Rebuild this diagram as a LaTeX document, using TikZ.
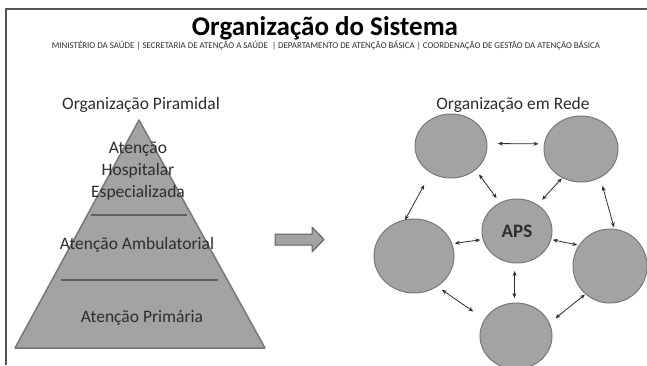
\documentclass[tikz,border=0pt]{standalone}
\usepackage{fontspec}
\setmainfont{Carlito}
\usetikzlibrary{positioning,arrows.meta,shapes.geometric}

\definecolor{shade}{RGB}{163,163,163}
\definecolor{rim}{RGB}{120,120,120}
\definecolor{ink}{RGB}{45,45,45}

\begin{document}
\begin{tikzpicture}
   [x=1pt,y=-1pt,
	rede/.style={ellipse,draw=rim,fill=shade,line width=1pt,inner sep=0pt,outer sep=0pt},
	link/.style={{Stealth[length=5pt,width=4pt]}-{Stealth[length=5pt,width=4pt]},line width=0.8pt,ink},
	rotulo/.style={font=\fontsize{17.5}{21}\selectfont,text=ink,inner sep=0pt}]

\useasboundingbox (0,0) rectangle (647,365);
\draw [line width=1.5pt,rim!70!black] (6,365) -- (6,9) -- (647,9);

\node (titulo) at (325,28) {\fontsize{27}{31}\selectfont\bfseries Organização do Sistema};
\node (sub) at (326,46) {\fontsize{8.9}{10}\selectfont\color{ink}MINISTÉRIO DA SAÚDE | SECRETARIA DE ATENÇÃO A SAÚDE \ | DEPARTAMENTO DE ATENÇÃO BÁSICA | COORDENAÇÃO DE GESTÃO DA ATENÇÃO BÁSICA};

% piramide
\node [rotulo] (pir) at (141,105) {Organização Piramidal};
\draw [fill=shade,draw=rim,line width=1.5pt,line join=round] (139,120) -- (265,348) -- (15,348) -- cycle;
\draw [line width=2pt,rim!80!black] (91,215) -- (187,215);
\draw [line width=2pt,rim!80!black] (61,280) -- (218,280);
\node [rotulo,align=center] (hosp) at (138,171) {Atenção\\[1pt]Hospitalar\\[1pt]Especializada};
\node [rotulo] (amb) at (137,245) {Atenção Ambulatorial};
\node [rotulo] (prim) at (142,318) {Atenção Primária};

% seta
\draw [fill=shade,draw=rim!80!black,line width=1pt,line join=round] (275,234) -- (312,234) -- (312,227) -- (324,239.5)
		-- (312,252) -- (312,245) -- (275,245) -- cycle;

% rede
\node [rotulo] (rede) at (513,105) {Organização em Rede};
\node [rede,minimum width=72pt,minimum height=64pt] (tl) at (451,146) {};
\node [rede,minimum width=74pt,minimum height=66pt] (tr) at (581,149) {};
\node [rede,minimum width=70pt,minimum height=64pt,font=\fontsize{19}{22}\selectfont\bfseries,text=ink] (aps) at (517,231) {APS};
\node [rede,minimum width=80pt,minimum height=74pt] (l) at (414,256) {};
\node [rede,minimum width=74pt,minimum height=74pt] (r) at (610,266) {};
\node [rede,minimum width=72pt,minimum height=66pt] (b) at (516,336) {};

\draw [link,shorten <=11pt,shorten >=6pt] (tl.4) -- (tr.172);
\draw [link,shorten <=6pt,shorten >=6pt] (tl.316) -- (aps.121);
\draw [link,shorten <=1pt,shorten >=7pt] (tr.237) -- (aps.52);
\draw [link,shorten <=14pt,shorten >=0pt] (tl.233) -- (l.104);
\draw [link,shorten <=9pt,shorten >=2pt] (tr.304) -- (r.83);
\draw [link,shorten <=3pt,shorten >=3pt] (aps.194) -- (l.18);
\draw [link,shorten <=2pt,shorten >=2pt] (aps.346) -- (r.146);
\draw [link,shorten <=8pt,shorten >=5pt] (aps.266) -- (b.93);
\draw [link,shorten <=6pt,shorten >=14pt] (l.307) -- (b.152);
\draw [link,shorten <=1pt,shorten >=8pt] (r.229) -- (b.21);
\end{tikzpicture}
\end{document}
